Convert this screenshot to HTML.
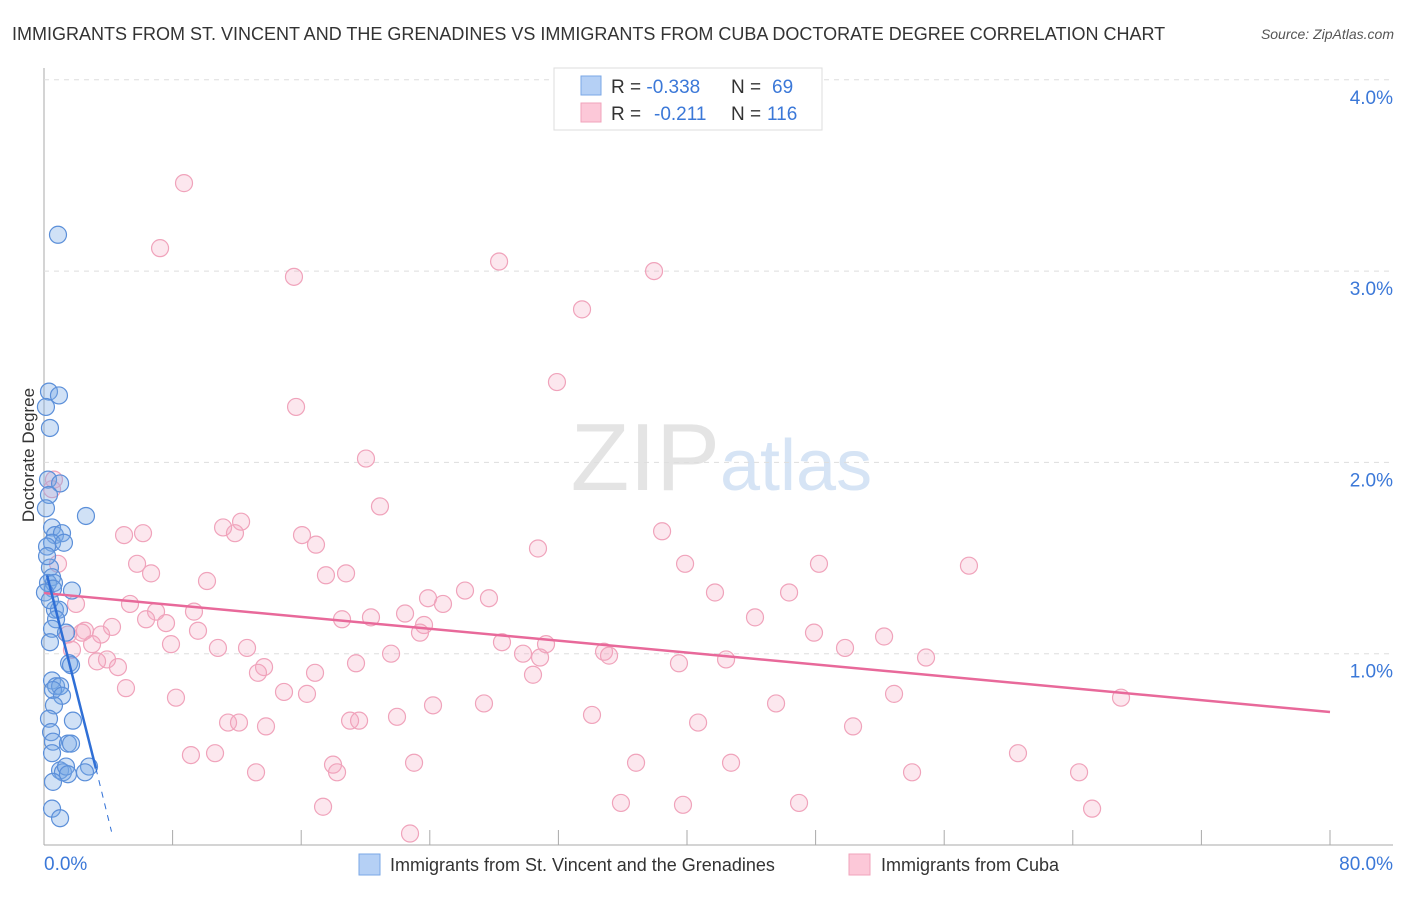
<!DOCTYPE html>
<html><head><meta charset="utf-8"><style>
body{margin:0;background:#fff;font-family:"Liberation Sans",sans-serif}
svg text{font-family:"Liberation Sans",sans-serif}
</style></head><body>
<svg id="c" width="1406" height="892" xmlns="http://www.w3.org/2000/svg">
<text x="12" y="40" font-size="18" fill="#333">IMMIGRANTS FROM ST. VINCENT AND THE GRENADINES VS IMMIGRANTS FROM CUBA DOCTORATE DEGREE CORRELATION CHART</text>
<text x="1394" y="39" font-size="14" fill="#555" font-style="italic" text-anchor="end">Source: ZipAtlas.com</text>
<text transform="translate(34,455) rotate(-90)" font-size="17" fill="#333" text-anchor="middle">Doctorate Degree</text>
<text x="720" y="490" font-size="96" fill="#e4e4e4" text-anchor="end" font-family="Liberation Serif">ZIP</text>
<text x="720" y="490" font-size="72" fill="#d6e4f5">atlas</text>
<g id="grid"></g><g id="pts"></g><g id="lines"></g>
<g>
<rect x="554" y="68" width="268" height="62" fill="#fff" stroke="#ddd"/>
<rect x="581" y="76" width="20" height="19" fill="#b5d0f5" stroke="#7aa7e6"/>
<rect x="581" y="103" width="20" height="19" fill="#fcc8d8" stroke="#f1a3bb"/>
<text x="611" y="93" font-size="19" fill="#333">R = <tspan fill="#3b78d8">-0.338</tspan><tspan x="731">N = </tspan><tspan x="772" fill="#3b78d8">69</tspan></text>
<text x="611" y="120" font-size="19" fill="#333">R = <tspan x="654" fill="#3b78d8">-0.211</tspan><tspan x="731">N = </tspan><tspan x="767" fill="#3b78d8">116</tspan></text>
</g>
<g>
<rect x="359" y="854" width="21" height="21" fill="#b5d0f5" stroke="#7aa7e6"/>
<text x="390" y="871" font-size="18" fill="#333">Immigrants from St. Vincent and the Grenadines</text>
<rect x="849" y="854" width="21" height="21" fill="#fcc8d8" stroke="#f1a3bb"/>
<text x="881" y="871" font-size="18" fill="#333">Immigrants from Cuba</text>
</g>
</svg>
<script>
const blueX=[0.87,0.31,0.93,0.12,0.37,0.25,1.00,0.31,0.12,2.61,0.50,0.68,1.12,0.50,1.24,0.19,0.37,0.50,0.25,0.62,1.74,0.56,0.68,0.93,0.75,0.50,1.37,1.56,1.68,0.37,0.50,0.75,1.00,0.56,1.12,0.62,1.80,0.31,0.44,0.56,1.49,1.68,0.50,2.80,1.00,1.18,1.37,1.49,2.55,0.56,0.50,1.00,0.19,0.06,0.37];
const blueY=[3.19,2.37,2.35,2.29,2.18,1.91,1.89,1.83,1.76,1.72,1.66,1.62,1.63,1.58,1.58,1.56,1.45,1.40,1.37,1.37,1.33,1.34,1.23,1.23,1.18,1.13,1.11,0.95,0.94,1.06,0.86,0.83,0.83,0.81,0.78,0.73,0.65,0.66,0.59,0.54,0.53,0.53,0.48,0.41,0.39,0.38,0.41,0.37,0.38,0.33,0.19,0.14,1.51,1.32,1.28];
const pinkX=[8.71,7.22,15.55,28.31,37.95,33.47,31.91,15.68,20.03,0.62,0.50,20.90,38.45,11.14,12.26,11.88,4.98,6.16,16.05,16.92,30.73,39.88,48.21,57.54,5.79,6.66,17.54,18.79,10.14,0.87,1.99,5.35,6.97,9.33,6.35,7.59,18.54,20.34,22.46,23.89,24.82,26.19,27.68,41.74,46.35,44.23,23.64,23.39,4.23,2.55,3.55,2.36,9.58,47.90,52.26,1.49,2.99,7.90,10.82,12.63,28.49,31.23,29.80,30.86,34.84,35.15,21.59,1.74,3.92,3.30,4.60,13.69,13.31,19.41,16.86,30.42,39.50,42.43,49.83,54.87,5.10,14.93,16.36,8.21,24.20,27.37,34.09,40.69,45.54,52.88,67.00,11.45,12.13,13.81,19.04,19.60,21.96,50.33,9.14,10.64,17.98,18.23,13.19,23.02,36.83,42.74,54.00,60.59,64.39,17.36,35.89,39.75,46.97,65.20,22.77];
const pinkY=[3.46,3.12,2.97,3.05,3.00,2.80,2.42,2.29,2.02,1.91,1.86,1.77,1.64,1.66,1.69,1.63,1.62,1.63,1.62,1.57,1.55,1.47,1.47,1.46,1.47,1.42,1.41,1.42,1.38,1.47,1.26,1.26,1.22,1.22,1.18,1.16,1.18,1.19,1.21,1.29,1.26,1.33,1.29,1.32,1.32,1.19,1.15,1.11,1.14,1.12,1.10,1.11,1.12,1.11,1.09,1.10,1.05,1.05,1.03,1.03,1.06,1.05,1.00,0.98,1.01,0.99,1.00,1.02,0.97,0.96,0.93,0.93,0.90,0.95,0.90,0.89,0.95,0.97,1.03,0.98,0.82,0.80,0.79,0.77,0.73,0.74,0.68,0.64,0.74,0.79,0.77,0.64,0.64,0.62,0.65,0.65,0.67,0.62,0.47,0.48,0.42,0.38,0.38,0.43,0.43,0.43,0.38,0.48,0.38,0.20,0.22,0.21,0.22,0.19,0.06];
const yTicks=[1,2,3,4];
const xTickLabels=["0.0%","80.0%"];
const blueTrend=[[0.19,1.41],[3.23,0.40]];
const blueTrendExt=[[3.23,0.40],[4.2,0.07]];
const pinkTrend=[[0,1.317],[80,0.695]];
const sx=v=>44+v*1286/80, sy=v=>845-v*191.3;
const NS="http://www.w3.org/2000/svg";
function mk(tag,attrs,parent){const e=document.createElementNS(NS,tag);for(const k in attrs)e.setAttribute(k,attrs[k]);document.getElementById(parent).appendChild(e);return e;}
let a=mk('line',{x1:44,y1:68,x2:44,y2:845,stroke:'#aaa'},'grid');


a=mk('line',{x1:44,y1:845,x2:1393,y2:845,stroke:'#aaa'},'grid');


for(let i=0;i<=10;i++){const t=mk('line',{x1:sx(i*8),y1:830,x2:sx(i*8),y2:845,stroke:'#aaa'},'grid');

}
yTicks.forEach(v=>{const g=mk('line',{x1:44,y1:sy(v),x2:1393,y2:sy(v),stroke:'#ddd','stroke-dasharray':'5,5'},'grid');


const t=mk('text',{x:1393,y:sy(v)+24,'font-size':19,fill:'#3b78d8','text-anchor':'end'},'grid');t.textContent=v.toFixed(1)+'%';

});
let xl=mk('text',{x:44,y:870,'font-size':19,fill:'#3b78d8'},'grid');xl.textContent=xTickLabels[0];


xl=mk('text',{x:1393,y:870,'font-size':19,fill:'#3b78d8','text-anchor':'end'},'grid');xl.textContent=xTickLabels[1];


pinkX.forEach((x,i)=>{const c=mk('circle',{cx:sx(x),cy:sy(pinkY[i]),r:8.5,fill:'rgba(246,168,195,0.28)',stroke:'#f0a3bb','stroke-width':1.2},'pts');

});
blueX.forEach((x,i)=>{const c=mk('circle',{cx:sx(x),cy:sy(blueY[i]),r:8.5,fill:'rgba(120,168,230,0.35)',stroke:'#5b8fd9','stroke-width':1.2},'pts');

});
let l=mk('line',{x1:sx(pinkTrend[0][0]),y1:sy(pinkTrend[0][1]),x2:sx(pinkTrend[1][0]),y2:sy(pinkTrend[1][1]),stroke:'#e8699a','stroke-width':2.5},'lines');


l=mk('line',{x1:sx(blueTrend[0][0]),y1:sy(blueTrend[0][1]),x2:sx(blueTrend[1][0]),y2:sy(blueTrend[1][1]),stroke:'#2f6fd6','stroke-width':2.5},'lines');


l=mk('line',{x1:sx(blueTrendExt[0][0]),y1:sy(blueTrendExt[0][1]),x2:sx(blueTrendExt[1][0]),y2:sy(blueTrendExt[1][1]),stroke:'#2f6fd6','stroke-width':1,'stroke-dasharray':'6,6'},'lines');


</script>
</body></html>
